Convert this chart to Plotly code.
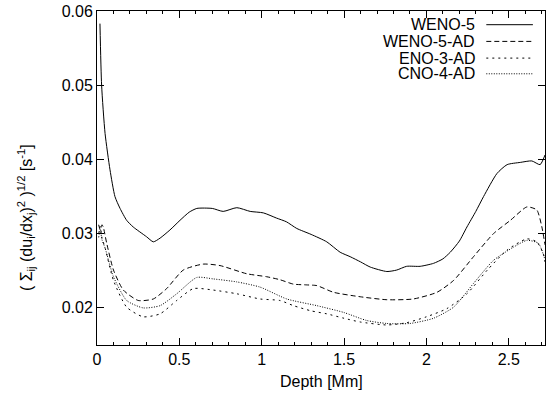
import plotly.graph_objects as go

# ---- data ----
weno5_x = [0.018, 0.028, 0.049, 0.079, 0.109, 0.14, 0.18, 0.22, 0.30, 0.342, 0.383, 0.443,
           0.504, 0.56, 0.606, 0.70, 0.766, 0.849, 0.93, 1.01, 1.09, 1.15, 1.213, 1.30,
           1.395, 1.476, 1.537, 1.60, 1.659, 1.76, 1.82, 1.88, 1.962, 2.043, 2.10, 2.145,
           2.20, 2.246, 2.30, 2.347, 2.428, 2.49, 2.57, 2.64, 2.69, 2.72]
weno5_y = [0.0583, 0.0500, 0.0435, 0.0386, 0.0350, 0.0334, 0.0318, 0.0309, 0.0296, 0.0289,
           0.0294, 0.0305, 0.0318, 0.0329, 0.0334, 0.0334, 0.0330, 0.0335, 0.0330, 0.0328,
           0.0321, 0.0316, 0.0307, 0.0299, 0.0289, 0.0275, 0.0269, 0.0262, 0.0255, 0.0249,
           0.0251, 0.0256, 0.0256, 0.0260, 0.0266, 0.0275, 0.0290, 0.0309, 0.0330, 0.0350,
           0.0381, 0.0393, 0.0396, 0.0398, 0.0393, 0.0406]

weno5ad_x = [0.01, 0.02, 0.03, 0.038, 0.059, 0.10, 0.16, 0.25, 0.342, 0.423, 0.524, 0.645,
             0.747, 0.909, 1.03, 1.11, 1.193, 1.27, 1.335, 1.436, 1.598, 1.76, 1.92, 2.064,
             2.165, 2.286, 2.407, 2.51, 2.61, 2.67, 2.70, 2.72]
weno5ad_y = [0.0312, 0.0305, 0.0312, 0.0309, 0.0287, 0.0251, 0.0224, 0.0210, 0.0212, 0.0226,
             0.0251, 0.0259, 0.0257, 0.0246, 0.0242, 0.0238, 0.0232, 0.0231, 0.0230, 0.0221,
             0.0215, 0.0211, 0.0212, 0.0221, 0.0237, 0.0269, 0.0300, 0.0318, 0.0336, 0.0332,
             0.0310, 0.0285]

eno3ad_x = [0.01, 0.02, 0.03, 0.05, 0.10, 0.18, 0.28, 0.383, 0.484, 0.585, 0.707, 0.849,
            0.99, 1.11, 1.193, 1.30, 1.395, 1.50, 1.598, 1.76, 1.88, 2.0, 2.124, 2.246,
            2.37, 2.49, 2.61, 2.67, 2.71, 2.72]
eno3ad_y = [0.0300, 0.0310, 0.0295, 0.0280, 0.0237, 0.0201, 0.0188, 0.0192, 0.0210, 0.0226,
            0.0224, 0.0219, 0.0212, 0.0210, 0.0203, 0.0196, 0.0192, 0.0186, 0.0181, 0.0177,
            0.0180, 0.0188, 0.0199, 0.0219, 0.0251, 0.0278, 0.0293, 0.0289, 0.0273, 0.0262]

cno4ad_x = [0.01, 0.02, 0.03, 0.05, 0.10, 0.18, 0.28, 0.383, 0.484, 0.606, 0.707, 0.849,
            0.99, 1.152, 1.335, 1.496, 1.638, 1.76, 1.90, 2.043, 2.165, 2.286, 2.407, 2.53,
            2.61, 2.68, 2.72]
cno4ad_y = [0.0295, 0.0305, 0.0292, 0.0280, 0.0242, 0.0210, 0.0200, 0.0203, 0.0219, 0.0241,
            0.0239, 0.0235, 0.0228, 0.0212, 0.0203, 0.0194, 0.0183, 0.0179, 0.0179, 0.0186,
            0.0201, 0.0233, 0.0264, 0.0282, 0.0291, 0.0287, 0.0265]

series_names = ["WENO-5", "WENO-5-AD", "ENO-3-AD", "CNO-4-AD"]
series_x = [weno5_x, weno5ad_x, eno3ad_x, cno4ad_x]
series_y = [weno5_y, weno5ad_y, eno3ad_y, cno4ad_y]
dashes = ["solid", "5px,3px", "2px,4px", "1px,1.5px"]

x_tickvals = [0, 0.5, 1, 1.5, 2, 2.5]
y_tickvals = [0.02, 0.03, 0.04, 0.05, 0.06]

FONT = "Liberation Sans, Arial, sans-serif"

fig = go.Figure()
for name, xs, ys, d in zip(series_names, series_x, series_y, dashes):
    fig.add_trace(go.Scatter(x=xs, y=ys, mode="lines", name=name,
                             line=dict(color="black", width=1, dash=d, shape="spline", smoothing=0.6),
                             showlegend=False))

# gnuplot-style legend: text right-aligned, sample line to the right
leg_y = [0.959, 0.909, 0.859, 0.812]
for name, d, yy in zip(series_names, dashes, leg_y):
    fig.add_annotation(x=0.849, y=yy, xref="paper", yref="paper", text=name,
                       showarrow=False, xanchor="right", yanchor="middle",
                       font=dict(family=FONT, size=16, color="black"))
    fig.add_shape(type="line", xref="paper", yref="paper", x0=0.869, x1=0.973, y0=yy, y1=yy,
                  line=dict(color="black", width=1, dash=d))

fig.add_annotation(x=-0.157, y=0.382, xref="paper", yref="paper", textangle=-90,
                   text="( Σ<sub>ij</sub> (du<sub>i</sub>/dx<sub>j</sub>)<sup>2</sup> )<sup>1/2</sup> [s<sup>-1</sup>]",
                   showarrow=False, xanchor="center", yanchor="middle",
                   font=dict(family=FONT, size=16, color="black"))

fig.add_annotation(x=0.5, y=-0.108, xref="paper", yref="paper", text="Depth [Mm]",
                   showarrow=False, xanchor="center", yanchor="middle",
                   font=dict(family=FONT, size=16, color="black"))

axis_common = dict(showline=True, linecolor="black", linewidth=1, mirror="allticks",
                   ticks="inside", ticklen=7, tickcolor="black", tickwidth=1,
                   showgrid=False, zeroline=False, automargin=False,
                   tickfont=dict(family=FONT, size=16, color="black"))

fig.update_xaxes(range=[0, 2.72], tickvals=x_tickvals, ticktext=[f"{v:g}" for v in x_tickvals],
                 minor=dict(ticks="inside", dtick=0.1, ticklen=3, tickcolor="black"),
                 **axis_common)
fig.update_yaxes(range=[0.015, 0.06], tickvals=y_tickvals, ticktext=[f"{v:.2f}" for v in y_tickvals],
                 **axis_common)

fig.update_layout(width=546, height=394, margin=dict(l=97, r=1, t=11, b=49),
                  plot_bgcolor="white", paper_bgcolor="white",
                  font=dict(family=FONT, size=16, color="black"))

fig.write_html("out.html", config={"displayModeBar": False},
               post_script="document.body.style.margin='0';document.body.style.overflow='hidden';")
